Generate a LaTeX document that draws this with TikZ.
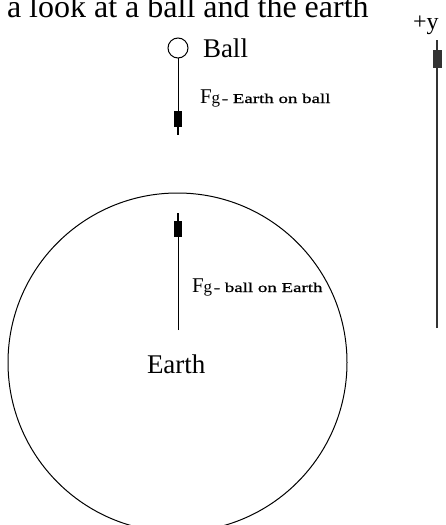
\documentclass[tikz,border=0pt]{standalone}
\usepackage{fontspec}
\setmainfont{Liberation Serif}
\newfontfamily\bitmapfont[FakeStretch=1.4,FakeBold=1]{Liberation Serif}
\usetikzlibrary{arrows.meta}

\begin{document}
\begin{tikzpicture}[
    x=1pt, y=-1pt,
    every node/.style={inner sep=0pt, outer sep=0pt},
    body/.style={draw, circle, line width=1pt},
    forcearrow/.style={
        line width=1pt,
        -{Rectangle[length=16pt,width=8pt] Rectangle[length=8pt,width=1.6pt]}
    },
    axisarrow/.style={
        line width=1.3pt, black!80,
        -{Rectangle[length=18pt,width=9pt] Rectangle[length=10pt,width=1.6pt]}
    },
    titlelabel/.style={anchor=base west, font=\fontsize{32}{32}\selectfont},
    bodylabel/.style={anchor=base west, font=\fontsize{27}{27}\selectfont},
    forcelabel/.style={anchor=base west},
]
\useasboundingbox (0,0) rectangle (446,525);

% === Title (top cut off) ===
\node[titlelabel] (title) at (7,17) {a look at a ball and the earth};

% === Ball ===
\node[body, minimum size=20pt] (ball) at (178,48) {};
\node[bodylabel] (balllabel) at (203,57) {Ball};
\coordinate (balltip) at (178,135);
\draw[forcearrow] (ball.south) -- (balltip);
\node[forcelabel] (fball) at (200,103)
    {{\fontsize{21}{21}\selectfont F}{\fontsize{17}{17}\selectfont g}\,{\bitmapfont\fontsize{13.5}{14}\selectfont - Earth on ball}};

% === Earth ===
\node[body, minimum size=339pt] (earth) at (177.5,362.5) {};
\node[bodylabel] (earthlabel) at (147,373) {Earth};
\coordinate (earthtail) at (178,330);
\coordinate (earthtip) at (178,213);
\draw[forcearrow] (earthtail) -- (earthtip);
\node[forcelabel] (fearth) at (192,292)
    {{\fontsize{21}{21}\selectfont F}{\fontsize{17}{17}\selectfont g}\,{\bitmapfont\fontsize{13.5}{14}\selectfont - ball on Earth}};

% === +y axis ===
\coordinate (axisbottom) at (437,328);
\coordinate (axistop) at (437,40);
\draw[axisarrow] (axisbottom) -- (axistop);
\node[anchor=base west, font=\fontsize{24}{24}\selectfont] (ylabel) at (413,29) {+y};

\end{tikzpicture}
\end{document}
